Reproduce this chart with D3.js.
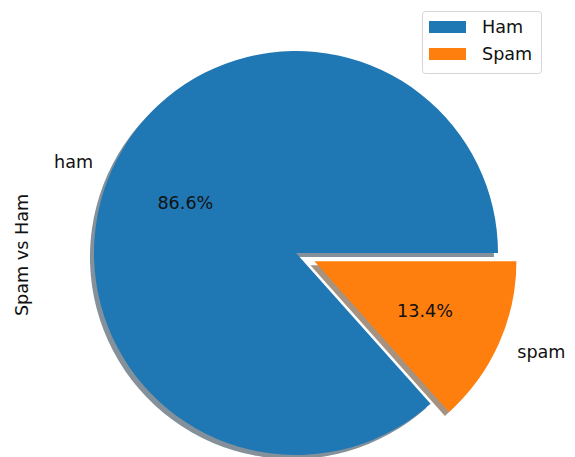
<!DOCTYPE html>
<html>
<head>
<meta charset="utf-8">
<script src="https://cdn.jsdelivr.net/npm/d3@7"></script>
<style>
  html, body { margin: 0; padding: 0; background: #fff; }
  svg { display: block; font-family: "DejaVu Sans", sans-serif; }
</style>
</head>
<body>
<svg id="chart" width="575" height="457"></svg>
<script>
// Message class split
const categories = ["ham", "spam"];
const legendLabels = ["Ham", "Spam"];
const shares = [86.6, 13.4];
const explode = [0, 0.1];
const colors = ["#1f77b4", "#ff7f0e"];
const yLabel = "Spam vs Ham";

const W = 575, H = 457;
const cx = 296, cy = 253, R = 202;
const fontSize = 17.6;

const svg = d3.select("#chart");

// unit-radius data space -> pixels
const sx = d3.scaleLinear().domain([-1, 1]).range([cx - R, cx + R]);
const sy = d3.scaleLinear().domain([-1, 1]).range([cy + R, cy - R]);

// wedges run counter-clockwise from 3 o'clock
const pie = d3.pie().sort(null).value(d => d)
  .startAngle(Math.PI / 2).endAngle(Math.PI / 2 - 2 * Math.PI);
const arcs = pie(shares);
const arc = d3.arc().innerRadius(0).outerRadius(R);

function offset(a, i) {
  const mid = (a.startAngle + a.endAngle) / 2;
  return [Math.sin(mid) * explode[i], Math.cos(mid) * explode[i]];
}

function shade(c) {
  const k = d3.rgb(c);
  return d3.rgb(k.r * 0.3, k.g * 0.3, k.b * 0.3).toString();
}

// drop shadows under all wedges
const shadowG = svg.append("g");
arcs.forEach((a, i) => {
  const [ox, oy] = offset(a, i);
  shadowG.append("path")
    .attr("d", arc(a))
    .attr("transform", `translate(${sx(ox - 0.02)},${sy(oy - 0.02)})`)
    .attr("fill", shade(colors[i]))
    .attr("fill-opacity", 0.5);
});

const wedgeG = svg.append("g");
arcs.forEach((a, i) => {
  const [ox, oy] = offset(a, i);
  const tx = sx(ox), ty = sy(oy);
  wedgeG.append("path")
    .attr("d", arc(a))
    .attr("transform", `translate(${tx},${ty})`)
    .attr("fill", colors[i]);

  const mid = (a.startAngle + a.endAngle) / 2;
  const ux = Math.sin(mid), uy = -Math.cos(mid);

  // category label outside the wedge
  wedgeG.append("text")
    .attr("x", tx + ux * 1.1 * R)
    .attr("y", ty + uy * 1.1 * R)
    .attr("text-anchor", ux < 0 ? "end" : "start")
    .attr("dominant-baseline", "central")
    .attr("font-size", fontSize)
    .attr("fill", "#111")
    .text(categories[i]);

  // percentage inside the wedge
  wedgeG.append("text")
    .attr("x", tx + ux * 0.6 * R)
    .attr("y", ty + uy * 0.6 * R)
    .attr("text-anchor", "middle")
    .attr("dominant-baseline", "central")
    .attr("font-size", fontSize)
    .attr("fill", "#111")
    .text(d3.format(".1f")(shares[i]) + "%");
});

// y-axis title
svg.append("text")
  .attr("transform", `translate(22,${cy + 2}) rotate(-90)`)
  .attr("text-anchor", "middle")
  .attr("dominant-baseline", "central")
  .attr("font-size", fontSize)
  .attr("fill", "#111")
  .text(yLabel);

// legend
const lg = svg.append("g").attr("transform", "translate(422,11)");
lg.append("rect")
  .attr("x", 0.5).attr("y", 0.5)
  .attr("width", 119).attr("height", 62)
  .attr("rx", 3)
  .attr("fill", "#fff").attr("fill-opacity", 0.8)
  .attr("stroke", "#d6d6d6");
legendLabels.forEach((t, i) => {
  const y = 16 + i * 27;
  lg.append("rect")
    .attr("x", 7).attr("y", y - 6)
    .attr("width", 37).attr("height", 12)
    .attr("fill", colors[i]);
  lg.append("text")
    .attr("x", 60).attr("y", y)
    .attr("dominant-baseline", "central")
    .attr("font-size", fontSize)
    .attr("fill", "#111")
    .text(t);
});
</script>
</body>
</html>
